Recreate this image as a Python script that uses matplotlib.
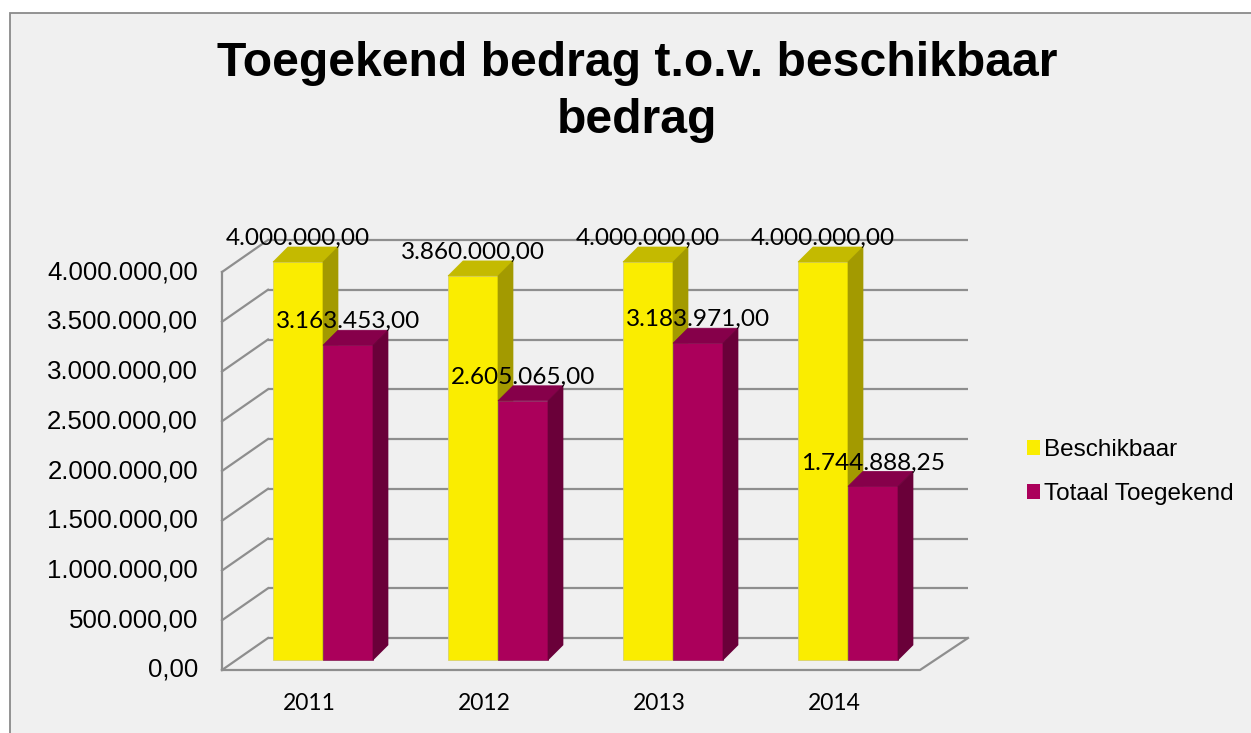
import matplotlib
matplotlib.use("Agg")
import matplotlib.pyplot as plt
from matplotlib.patches import Polygon, Rectangle, Patch

# ---- data ----
categories = ["2011", "2012", "2013", "2014"]
beschikbaar = [4000000.00, 3860000.00, 4000000.00, 4000000.00]
toegekend = [3163453.00, 2605065.00, 3183971.00, 1744888.25]
series_names = ["Beschikbaar", "Totaal Toegekend"]
yticks = [0, 500000, 1000000, 1500000, 2000000, 2500000, 3000000, 3500000, 4000000]
title = "Toegekend bedrag t.o.v. beschikbaar\nbedrag"


def fmt(v):
    s = f"{v:,.2f}"
    return s.replace(",", "X").replace(".", ",").replace("X", ".")


W, H = 1251, 733
fig = plt.figure(figsize=(W / 100, H / 100), dpi=100)
fig.patch.set_facecolor("white")
fig.patches.append(Rectangle((10 / W, -0.05), 1.2, (H - 13) / H + 0.05,
                             transform=fig.transFigure, facecolor="#F0F0F0",
                             edgecolor="#8A8A8A", lw=1.3, zorder=-10))

# axes spanning the figure; units: x = category index, y = value
PX_X = 175.0          # px per category
PX_Y = 9.95e-5        # px per value unit
ax = fig.add_axes([0, 0, 1, 1])
ax.set_zorder(1)
ax.set_xlim(-323 / PX_X, (W - 323) / PX_X)
ax.set_ylim((660 - H) / PX_Y, 660 / PX_Y)
ax.set_axis_off()

# wall geometry (style offsets)
yf = -10 / PX_Y      # front plane offset
yb = 22 / PX_Y       # back plane offset
xfl, xbl = -101 / PX_X, -55 / PX_X
xfr, xbr = 597 / PX_X, 645 / PX_X
gc = "#8E8E8E"
glw = 1.6
top = max(yticks)
for v in yticks:
    ax.plot([xbl, xbr], [v + yb, v + yb], color=gc, lw=glw, zorder=1, solid_capstyle="butt")
    ax.plot([xfl, xbl], [v + yf, v + yb], color=gc, lw=glw, zorder=1)
ax.plot([xfl, xfl], [yf, top + yf], color=gc, lw=glw, zorder=1)
ax.plot([xfl, xfr, xbr], [yf, yf, yb], color=gc, lw=glw, zorder=1)

for v in yticks:
    ax.text(-125 / PX_X, v + yf, fmt(v), ha="right", va="center",
            fontsize=18.6, family="Liberation Sans", color="#000000")

# bars
bw = 50 / PX_X
ddx = 15 / PX_X
ddy = 15 / PX_Y
styles = [
    dict(front="#FAED00", side="#A39A00", topc="#C4BA00", edge="#D9D26A"),
    dict(front="#AB005B", side="#6A0039", topc="#86004A", edge="#8E2A60"),
]
xs = list(range(len(categories)))
for i in xs:
    for s, (vals, st) in enumerate(zip([beschikbaar, toegekend], styles)):
        v = vals[i]
        x0 = i - bw + s * bw
        z = 3 + i * 2 + s
        ax.bar([x0], [v], width=bw, align="edge", color=st["front"],
               edgecolor=st["edge"], lw=0.6, zorder=z)
        ax.add_patch(Polygon([(x0, v), (x0 + ddx, v + ddy), (x0 + bw + ddx, v + ddy), (x0 + bw, v)],
                             closed=True, facecolor=st["topc"], edgecolor=st["topc"], lw=0.5, zorder=z))
        ax.add_patch(Polygon([(x0 + bw, 0), (x0 + bw + ddx, ddy), (x0 + bw + ddx, v + ddy), (x0 + bw, v)],
                             closed=True, facecolor=st["side"], edgecolor=st["side"], lw=0.5, zorder=z))

for i in xs:
    for s, vals in enumerate([beschikbaar, toegekend]):
        v = vals[i]
        xc = i - bw / 2 + s * bw
        ax.annotate(fmt(v), (xc, v), xytext=(0, 17), textcoords="offset pixels",
                    ha="center", va="baseline", fontsize=17.6, family="Lato",
                    color="#000000", zorder=20)

for i, c in zip(xs, categories):
    ax.text(i - 14 / PX_X, -44 / PX_Y, c, ha="center", va="center",
            fontsize=16.5, family="Lato", color="#000000")

fig.text(637 / W, 1 - 92 / H, title, ha="center", va="center", fontsize=34.7,
         fontweight="bold", family="Liberation Sans", linespacing=1.36)

handles = [Patch(facecolor=styles[0]["front"], edgecolor="none"),
           Patch(facecolor=styles[1]["front"], edgecolor="none")]
fig.legend(handles, series_names, loc="center left", bbox_to_anchor=(1027 / W, 1 - 472 / H),
           frameon=False, prop={"family": "Liberation Sans", "size": 17.5},
           handlelength=0.52, handleheight=0.56, handletextpad=0.2, labelspacing=0.88,
           borderpad=0, borderaxespad=0)

fig.savefig("out.png", dpi=100, facecolor=fig.get_facecolor())
